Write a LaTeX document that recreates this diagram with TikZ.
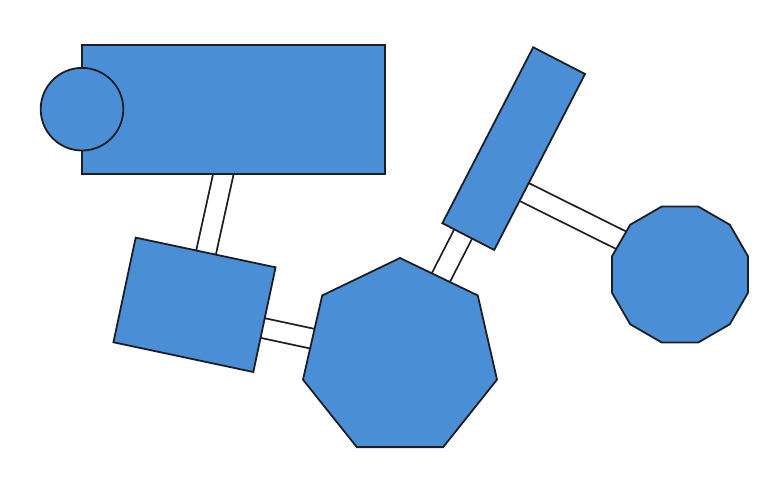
\documentclass[tikz,border=0pt]{standalone}
\usetikzlibrary{shapes.geometric,backgrounds}
\definecolor{shapeblue}{RGB}{74,143,214}
\definecolor{edgedark}{RGB}{28,30,36}
\begin{document}
\begin{tikzpicture}[x=1pt,y=-1pt,
    part/.style={draw=edgedark,fill=shapeblue,line width=1.8pt,inner sep=0pt},
    link/.style={draw=edgedark,line width=1.8pt,double=white,double distance=18.2pt}]
  \useasboundingbox (0,0) rectangle (777,480);
  \node[part,rectangle,minimum width=303pt,minimum height=129pt] (body) at (233.5,109.5) {};
  \node[part,circle,minimum size=82.6pt] (knob) at (82,109.2) {};
  \node[part,rectangle,minimum width=143pt,minimum height=107pt,rotate=-12] (block) at (194.5,304.8) {};
  \node[part,regular polygon,regular polygon sides=7,minimum size=199pt] (hepta) at (400,357.5) {};
  \node[part,rectangle,minimum width=198pt,minimum height=58.3pt,rotate=62.7] (bar) at (513.7,148.6) {};
  \node[part,regular polygon,regular polygon sides=12,minimum size=140.8pt] (dodeca) at (680,274.5) {};
  \coordinate (bodyend) at (237.5,110);
  \coordinate (blockend) at (230,321);
  \coordinate (barend) at (501,160);
  \coordinate (barside) at (500,180);
  \coordinate (dodecaend) at (680,269.5);
  \begin{scope}[on background layer]
    \draw[link] (block.center) -- (bodyend);
    \draw[link] (hepta.center) -- (blockend);
    \draw[link] (hepta.center) -- (barend);
    \draw[link] (barside) -- (dodecaend);
  \end{scope}
\end{tikzpicture}
\end{document}
